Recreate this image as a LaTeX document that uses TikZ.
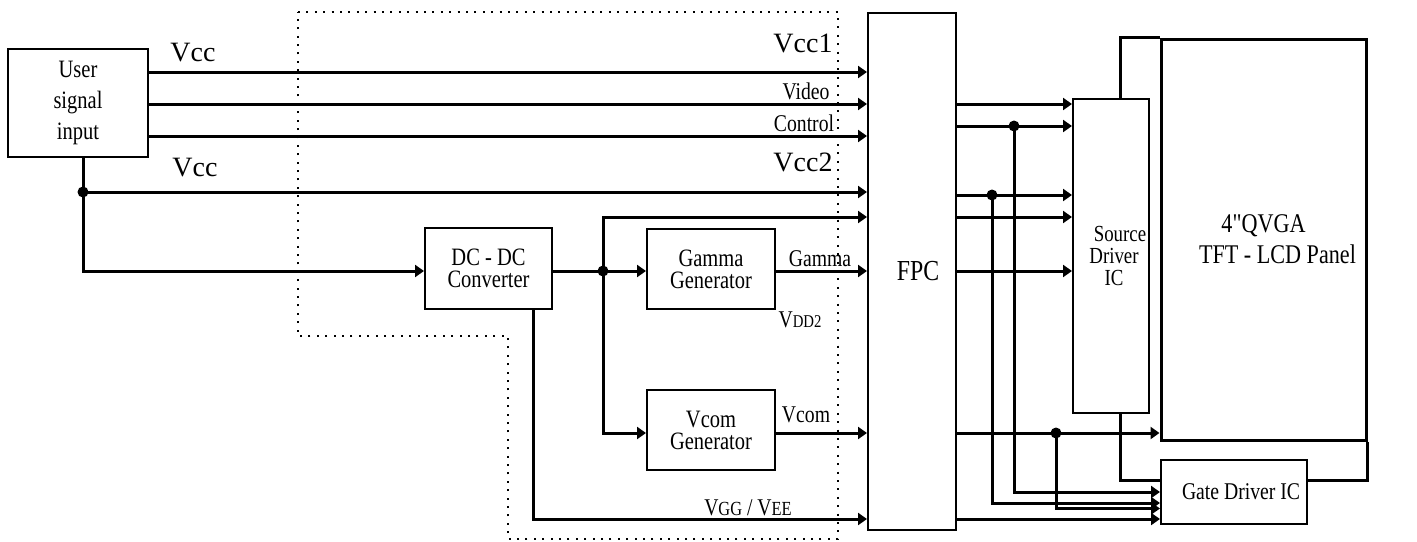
\documentclass[tikz,border=0pt]{standalone}
\usepackage{fontspec}
\setmainfont[FakeStretch=0.82]{Liberation Serif}
\newfontfamily\vccfont{Liberation Serif}
\usetikzlibrary{calc,arrows.meta}

\tikzset{
  blk/.style={draw,line width=1pt,inner sep=0pt,align=center,font=\fontsize{12.5}{11}\selectfont},
  wire/.style={line width=1.5pt},
  arr/.style={wire,-{Triangle[length=4.5pt,width=6pt]}},
  jdot/.style={circle,fill,inner sep=0pt,minimum size=5.5pt},
  lbl/.style={inner sep=0pt,font=\fontsize{12}{12}\selectfont},
  vlbl/.style={inner sep=0pt,font=\vccfont\fontsize{14}{14}\selectfont},
  frame/.style={line width=0.9pt,dash pattern=on 1pt off 3.2pt}
}

\begin{document}
\begin{tikzpicture}[x=0.5pt,y=-0.5pt]
            \useasboundingbox (0,0) rectangle (1417,541);

            \draw[frame] (298,12) -- (838,12) -- (838,539) -- (508,539) -- (508,336) -- (298,336) -- cycle;

            \node[blk,minimum width=70pt,minimum height=54pt,font=\fontsize{12.5}{15.5}\selectfont] (user) at (78,103) {User\\signal\\input};
            \node[blk,minimum width=44pt,minimum height=258.5pt,font=\fontsize{14.5}{14.5}\selectfont] (fpc) at (912,271.5) {\hspace*{6pt}FPC};
            \node[blk,minimum width=63.5pt,minimum height=40.5pt] (dcdc) at (488.5,268.5) {DC - DC\\Converter};
            \node[blk,minimum width=64pt,minimum height=40pt] (gamma) at (711,269) {Gamma\\Generator};
            \node[blk,minimum width=64pt,minimum height=40pt] (vcom) at (711,430) {Vcom\\Generator};
            \node[blk,minimum width=38pt,minimum height=157pt,font=\fontsize{11.5}{10.8}\selectfont] (src) at (1111,256) {\hspace*{9pt}Source\\\hspace*{3pt}Driver\\\hspace*{3pt}IC};
            \node[blk,line width=1.5pt,minimum width=102.5pt,minimum height=200.5pt,font=\fontsize{13.5}{15.5}\selectfont] (panel) at (1263.5,239.5) {4{\addfontfeature{Ligatures=TeXOff}"}QVGA\\\hspace*{14pt}TFT - LCD Panel};
            \node[blk,minimum width=73pt,minimum height=32pt,font=\fontsize{12}{12}\selectfont] (gate) at (1234,492) {\hspace*{7pt}Gate Driver IC};

            \node[vlbl] (vcca) at (193,53) {Vcc};
            \node[vlbl] (vccb) at (195,168) {Vcc};
            \node[vlbl] (vcc1) at (803,43) {Vcc1};
            \node[lbl] (video) at (806,91) {Video};
            \node[lbl] (ctrl) at (804,123) {Control};
            \node[vlbl] (vcc2) at (803,162) {Vcc2};
            \node[lbl] (gam) at (820,259) {Gamma};
            \node[lbl] (vdd) at (800,320) {V{\fontsize{9}{9}\selectfont DD2}};
            \node[lbl] (vcm) at (806,415) {Vcom};
            \node[lbl] (vgg) at (748,508) {V{\fontsize{10}{10}\selectfont GG} / V{\fontsize{10}{10}\selectfont EE}};

            \draw[arr] (user.east|-0,72) -- (fpc.west|-0,72);
            \draw[arr] (user.east|-0,104) -- (fpc.west|-0,104);
            \draw[arr] (user.east|-0,136) -- (fpc.west|-0,136);

            \node[jdot] (j1) at (83,192) {};
            \draw[wire] (user.south-|j1) -- (j1.center);
            \draw[arr] (j1.center) -- (fpc.west|-j1);
            \draw[arr] (j1.center) |- (dcdc.west|-0,271);

            \node[jdot] (j2) at (603,271) {};
            \draw[wire] (dcdc.east|-j2) -- (j2.center);
            \draw[arr] (j2.center) -- (gamma.west|-j2);
            \draw[arr] (j2.center) |- (fpc.west|-0,217);
            \draw[arr] (j2.center) |- (vcom.west|-0,433);
            \draw[arr] (gamma.east|-j2) -- (fpc.west|-j2);
            \draw[arr] (vcom.east|-0,433) -- (fpc.west|-0,433);
            \draw[arr] (dcdc.south-|533,0) |- (fpc.west|-0,519);

            \node[jdot] (j3) at (1014,126) {};
            \node[jdot] (j4) at (992,195) {};
            \node[jdot] (j5) at (1056,433) {};
            \draw[arr] (fpc.east|-0,104) -- (src.west|-0,104);
            \draw[arr] (fpc.east|-j3) -- (src.west|-j3);
            \draw[arr] (fpc.east|-j4) -- (src.west|-j4);
            \draw[arr] (fpc.east|-0,217) -- (src.west|-0,217);
            \draw[arr] (fpc.east|-0,271) -- (src.west|-0,271);
            \draw[arr] (fpc.east|-j5) -- (panel.west|-j5);
            \draw[arr] (j3.center) |- (gate.west|-0,492);
            \draw[arr] (j4.center) |- (gate.west|-0,503);
            \draw[arr] (j5.center) |- (gate.west|-0,508.5);
            \draw[arr] (fpc.east|-0,519) -- (gate.west|-0,519);

            \draw[wire] (src.north-|1120,0) |- (panel.north west);
            \draw[wire] (src.south-|1120,0) |- (gate.west|-0,480);
            \draw[wire] (gate.east|-0,480) -| (panel.south east);
\end{tikzpicture}
\end{document}
